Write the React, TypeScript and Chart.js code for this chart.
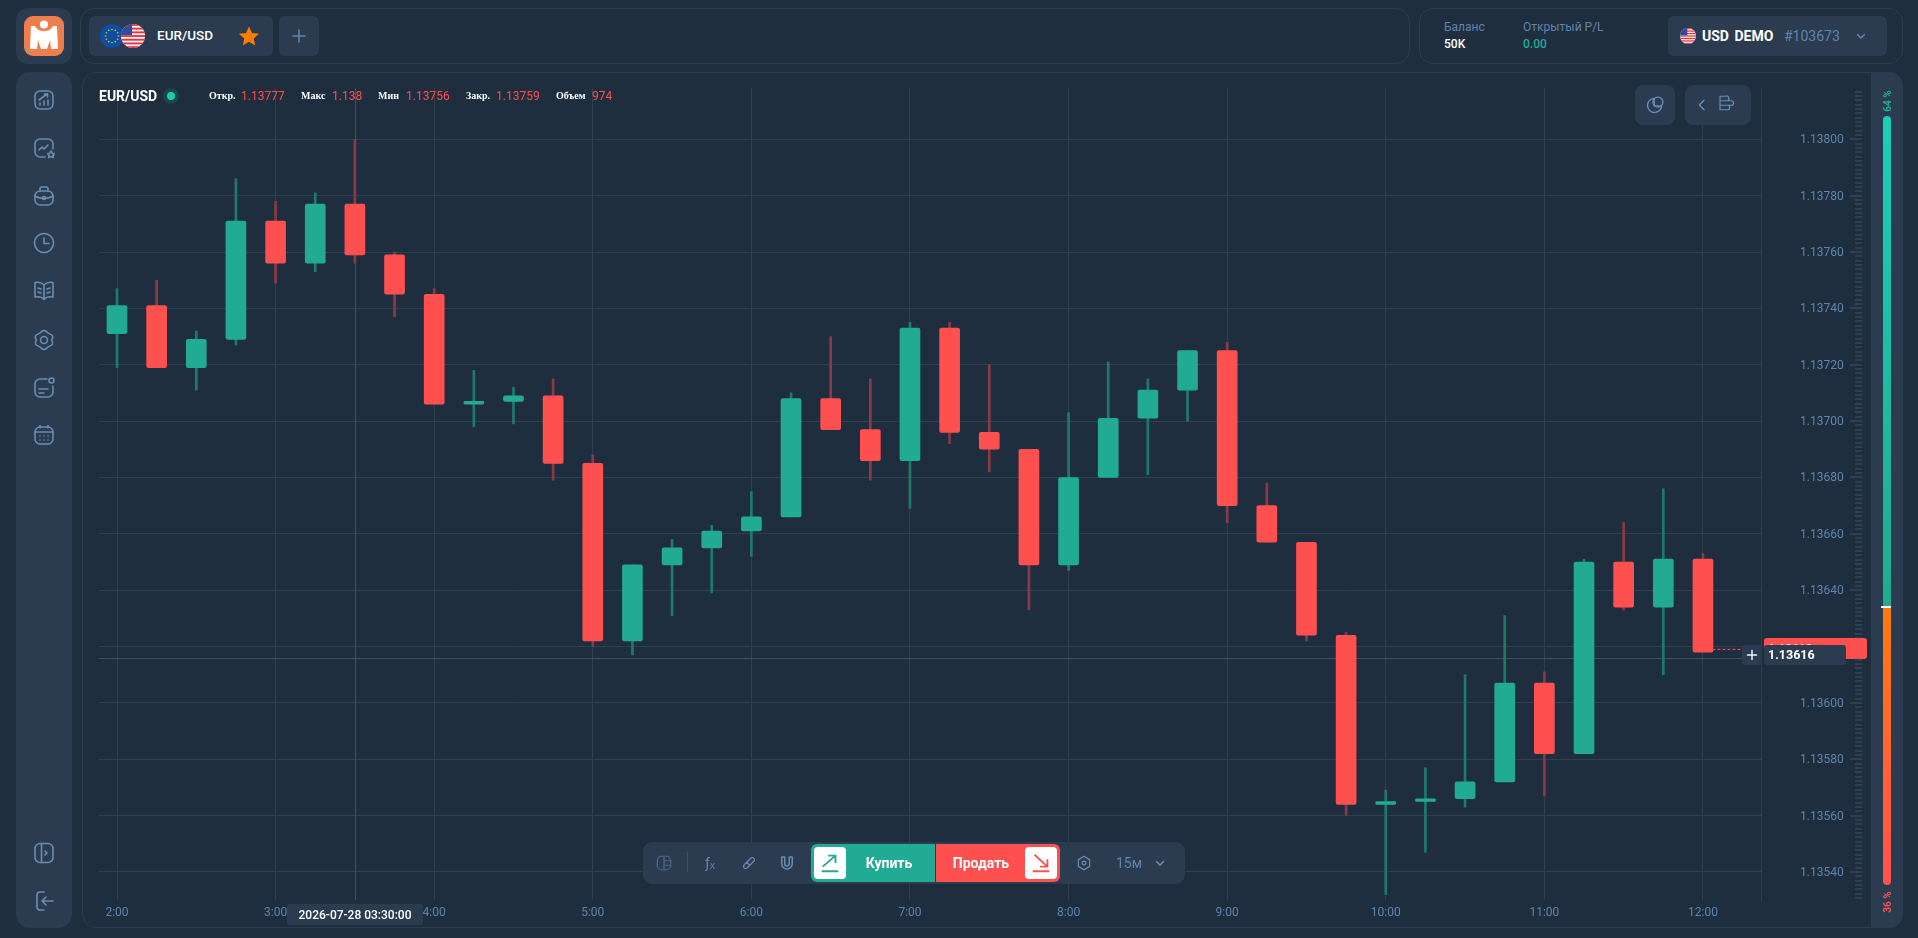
import React, { useEffect, useRef } from "react";
import { Chart, registerables } from "chart.js";

Chart.register(...registerables);

const times = [2, 2.25, 2.5, 2.75, 3, 3.25, 3.5, 3.75, 4, 4.25, 4.5, 4.75, 5, 5.25, 5.5, 5.75, 6, 6.25, 6.5, 6.75, 7, 7.25, 7.5, 7.75, 8, 8.25, 8.5, 8.75, 9, 9.25, 9.5, 9.75, 10, 10.25, 10.5, 10.75, 11, 11.25, 11.5, 11.75, 12];
const opens = [1.13731, 1.13741, 1.13719, 1.13729, 1.13771, 1.13756, 1.13777, 1.13759, 1.13745, 1.13706, 1.13707, 1.13709, 1.13685, 1.13622, 1.13649, 1.13655, 1.13661, 1.13666, 1.13708, 1.13697, 1.13686, 1.13733, 1.13696, 1.1369, 1.13649, 1.1368, 1.13701, 1.13711, 1.13725, 1.1367, 1.13657, 1.13624, 1.13564, 1.13565, 1.13566, 1.13572, 1.13607, 1.13582, 1.1365, 1.13634, 1.13651];
const highs = [1.13747, 1.1375, 1.13732, 1.13786, 1.13778, 1.13781, 1.138, 1.1376, 1.13747, 1.13718, 1.13712, 1.13715, 1.13688, 1.13649, 1.13658, 1.13663, 1.13675, 1.1371, 1.1373, 1.13715, 1.13735, 1.13735, 1.1372, 1.1369, 1.13703, 1.13721, 1.13715, 1.13725, 1.13728, 1.13678, 1.13657, 1.13625, 1.13569, 1.13577, 1.1361, 1.13631, 1.13611, 1.13651, 1.13664, 1.13676, 1.13653];
const lows = [1.13719, 1.13719, 1.13711, 1.13727, 1.13749, 1.13753, 1.13756, 1.13737, 1.13706, 1.13698, 1.13699, 1.13679, 1.1362, 1.13617, 1.13631, 1.13639, 1.13652, 1.13666, 1.13697, 1.13679, 1.13669, 1.13692, 1.13682, 1.13633, 1.13647, 1.1368, 1.13681, 1.137, 1.13664, 1.13657, 1.13622, 1.1356, 1.13532, 1.13547, 1.13563, 1.13572, 1.13567, 1.13582, 1.13633, 1.1361, 1.13618];
const closes = [1.13741, 1.13719, 1.13729, 1.13771, 1.13756, 1.13777, 1.13759, 1.13745, 1.13706, 1.13707, 1.13709, 1.13685, 1.13622, 1.13649, 1.13655, 1.13661, 1.13666, 1.13708, 1.13697, 1.13686, 1.13733, 1.13696, 1.1369, 1.13649, 1.1368, 1.13701, 1.13711, 1.13725, 1.1367, 1.13657, 1.13624, 1.13564, 1.13565, 1.13566, 1.13572, 1.13607, 1.13582, 1.1365, 1.13634, 1.13651, 1.13618];
const hourTicks = [2, 3, 4, 5, 6, 7, 8, 9, 10, 11, 12];
const priceTicks = [1.138, 1.1378, 1.1376, 1.1374, 1.1372, 1.137, 1.1368, 1.1366, 1.1364, 1.1362, 1.136, 1.1358, 1.1356, 1.1354];
const lastPrice = 1.13619;
const crosshairTime = 3.5;
const crosshairPrice = 1.13616;
const header = [
  ["Откр.", "1.13777"],
  ["Макс", "1.138"],
  ["Мин", "1.13756"],
  ["Закр.", "1.13759"],
  ["Объем", "974"],
];

const UP = "#22ab94";
const DOWN = "#ff5050";
const UP_WICK = "#1e7a6d";
const DOWN_WICK = "#8a3a46";
const GRID = "#2e3f52";
const BLUE = "#5f84ad";
const PANEL = "#2b3c50";
const BG = "#1f2e3e";
const EDGE = "#2c3c4f";
const FONT = "Roboto, sans-serif";

const rulerPlugin = {
  id: "ruler",
  beforeDatasetsDraw(chart: any) {
    const y = chart.scales.y;
    const { ctx, chartArea } = chart;
    ctx.save();
    ctx.fillStyle = "#2e3f52";
    const sub = 0.0002 / 13;
    for (let i = -12; i < 200; i++) {
      const v = 1.138 - i * sub;
      const py = y.getPixelForValue(v);
      if (py < chartArea.top + 2 || py > chartArea.bottom) continue;
      const major = i % 13 === 0;
      ctx.fillRect(major ? 1850 : 1855, Math.round(py) - 1, major ? 12 : 7, 2);
    }
    ctx.strokeStyle = "#3f5064";
    ctx.lineWidth = 1;
    const cx = Math.round(chart.scales.x.getPixelForValue(crosshairTime)) + 0.5;
    const cy = Math.round(y.getPixelForValue(crosshairPrice)) + 0.5;
    ctx.beginPath();
    ctx.moveTo(cx, chartArea.top);
    ctx.lineTo(cx, chartArea.bottom);
    ctx.moveTo(chartArea.left, cy);
    ctx.lineTo(chartArea.right - 18, cy);
    ctx.stroke();
    ctx.restore();
  },
};

function CandleChart() {
  const ref = useRef<HTMLCanvasElement>(null);
  useEffect(() => {
    const chart = new Chart(ref.current as HTMLCanvasElement, {
      type: "bar",
      plugins: [rulerPlugin],
      data: {
        datasets: [
          {
            type: "line",
            data: [
              { x: 12.06, y: lastPrice },
              { x: 12.245, y: lastPrice },
            ],
            borderColor: DOWN,
            borderWidth: 1,
            borderDash: [3, 2],
            pointRadius: 0,
          },
          {
            data: times.map((t, i) => ({ x: t, y: [opens[i], closes[i]] })),
            backgroundColor: times.map((_, i) => (closes[i] >= opens[i] ? UP : DOWN)),
            barThickness: 20,
            borderRadius: 2,
            borderSkipped: false,
            grouped: false,
          },
          {
            data: times.map((t, i) => ({ x: t, y: [lows[i], highs[i]] })),
            backgroundColor: times.map((_, i) => (closes[i] >= opens[i] ? UP_WICK : DOWN_WICK)),
            barThickness: 2,
            grouped: false,
          },
        ] as any,
      },
      options: {
        animation: false,
        responsive: false,
        devicePixelRatio: 1,
        events: [],
        layout: { padding: { left: 99, top: 88, right: 57, bottom: 8 } },
        plugins: { legend: { display: false }, tooltip: { enabled: false } },
        scales: {
          x: {
            type: "linear",
            offset: false,
            min: 1.8865,
            max: 12.366,
            afterBuildTicks: (s: any) => {
              s.ticks = hourTicks.map((v) => ({ value: v }));
            },
            afterFit: (s: any) => {
              s.height = 30;
            },
            grid: { color: GRID, drawTicks: false, offset: false },
            border: { display: false },
            ticks: {
              color: BLUE,
              font: { family: FONT, size: 12 },
              padding: 6,
              autoSkip: false,
              maxRotation: 0,
              callback: (v: any) => `${v}:00`,
            },
          },
          y: {
            type: "linear",
            position: "right",
            min: 1.1353006,
            max: 1.138182,
            afterBuildTicks: (s: any) => {
              s.ticks = priceTicks.map((v) => ({ value: v }));
            },
            afterFit: (s: any) => {
              s.width = 100;
            },
            grid: { color: GRID, drawTicks: true, tickLength: 39, tickColor: "transparent" },
            border: { display: true, color: GRID },
            ticks: {
              color: BLUE,
              font: { family: FONT, size: 12 },
              padding: 0,
              labelOffset: 1,
              autoSkip: false,
              callback: (v: any) => Number(v).toFixed(5),
            },
          },
        },
      } as any,
    });
    return () => chart.destroy();
  }, []);
  return (
    <canvas
      ref={ref}
      width={1918}
      height={938}
      style={{ position: "absolute", left: 0, top: 0, width: 1918, height: 938, zIndex: 1 }}
    />
  );
}

const box = (l: number, t: number, w: number, h: number, extra: any = {}) => ({
  position: "absolute",
  left: l,
  top: t,
  width: w,
  height: h,
  boxSizing: "border-box",
  ...extra,
});

const txt = (l: number, cy: number, size: number, color: string, extra: any = {}) => ({
  position: "absolute",
  left: l,
  top: cy - 10,
  height: 20,
  lineHeight: "20px",
  fontFamily: FONT,
  fontSize: size,
  color,
  whiteSpace: "nowrap",
  ...extra,
});

function Icon({ cx, cy, size = 24, color = "#6a8db3", sw = 1.6, children }: any) {
  return (
    <svg
      viewBox="0 0 24 24"
      width={size}
      height={size}
      fill="none"
      stroke={color}
      strokeWidth={sw}
      strokeLinecap="round"
      strokeLinejoin="round"
      style={{ position: "absolute", left: cx - size / 2, top: cy - size / 2, zIndex: 3 }}
    >
      {children}
    </svg>
  );
}

function UsFlag({ cx, cy, d, id }: any) {
  const stripes = [];
  for (let i = 0; i < 7; i++) stripes.push(<rect key={i} x="0" y={i * 3.7} width="24" height="1.85" fill="#e8313f" />);
  return (
    <svg viewBox="0 0 24 24" width={d} height={d} style={{ position: "absolute", left: cx - d / 2, top: cy - d / 2, zIndex: 3 }}>
      <clipPath id={id}>
        <circle cx="12" cy="12" r="12" />
      </clipPath>
      <g clipPath={`url(#${id})`}>
        <rect width="24" height="24" fill="#f5f5f5" />
        {stripes}
        <rect width="11" height="11" fill="#2f4d9c" />
      </g>
    </svg>
  );
}

function EuFlag({ cx, cy, d }: any) {
  const stars = [];
  for (let i = 0; i < 12; i++) {
    const a = (i * Math.PI) / 6;
    stars.push(<circle key={i} cx={12 + 6.5 * Math.cos(a)} cy={12 + 6.5 * Math.sin(a)} r="0.8" fill="#ffcc00" />);
  }
  return (
    <svg viewBox="0 0 24 24" width={d} height={d} style={{ position: "absolute", left: cx - d / 2, top: cy - d / 2, zIndex: 3 }}>
      <circle cx="12" cy="12" r="12" fill="#0b4ea2" />
      {stars}
    </svg>
  );
}

const sideYs = [100, 148, 196, 243, 291, 340, 388, 435];
const sideIcons = [
  <g key="0"><rect x="3" y="3" width="18" height="18" rx="5" /><path d="M7 12l8-6M12.5 6H15.5V9M8 17v-2M12 17v-4M16 17v-5" /></g>,
  <g key="1"><path d="M13 21H8a5 5 0 0 1-5-5V8a5 5 0 0 1 5-5h8a5 5 0 0 1 5 5v5" /><path d="M7 14l3-3 2 2 4-4" /><path d="M19 15l1.4 2.4 2 .4-1.4 1.6.3 2.2-2.3-1-2.3 1 .3-2.2-1.4-1.6 2-.4z" /></g>,
  <g key="2"><rect x="3" y="7" width="18" height="14" rx="5" /><path d="M8 7V5a2 2 0 0 1 2-2h4a2 2 0 0 1 2 2v2M3 12c3 2 6 2.500 9 2.500s6-.5 9-2.500" /><circle cx="12" cy="14" r="1.500" /></g>,
  <g key="3"><circle cx="12" cy="12" r="9.500" /><path d="M12 7v5.500h5" /></g>,
  <g key="4"><path d="M12 6c-2-2-6-3-9-2.500V18c3-.5 7 0 9 2.500 2-2.500 6-3 9-2.500V3.500C18 3 14 4 12 6zM12 6v14.500" /><path d="M6 9l3 1M6 13l3 1M18 9l-3 1M18 13l-3 1" /></g>,
  <g key="5"><circle cx="12" cy="12" r="3.500" /><path d="M12 2.500c2 0 3 1.500 4 2.500s3.500 1 4.500 3-1 3.500-1 4 2 2 1 4-3.500 2-4.500 3-2 2.500-4 2.500-3-1.500-4-2.500-3.500-1-4.500-3 1-3.500 1-4-2-2-1-4 3.500-2 4.500-3 2-2.500 4-2.500z" /></g>,
  <g key="6"><path d="M15 3H8a5 5 0 0 0-5 5v8a5 5 0 0 0 5 5h8a5 5 0 0 0 5-5v-6" /><circle cx="19.500" cy="4.500" r="2.500" /><path d="M7 13h9M7 17h5" /></g>,
  <g key="7"><rect x="3" y="4" width="18" height="17" rx="5" /><path d="M3 9h18M8 2.500V5M16 2.500V5M8 13h.01M12 13h.01M16 13h.01M8 17h.01M12 17h.01M16 17h.01" /></g>,
];

export default function App() {
  const headerX = [[209, 241], [301, 332], [378, 406], [466, 496], [556, 592]];
  return (
    <div style={{ position: "relative", width: 1918, height: 938, background: BG, overflow: "hidden" }}>
      <style>{`html,body{margin:0;padding:0;background:${BG};overflow:hidden}`}</style>

      {/* logo */}
      <div style={box(16, 8, 56, 56, { background: PANEL, borderRadius: 12 }) as any} />
      <div style={box(24, 16, 40, 40, { background: "#ee7f4d", borderRadius: 9 }) as any} />
      <svg viewBox="0 0 40 40" width={40} height={40} style={{ position: "absolute", left: 24, top: 16, zIndex: 3 }}>
        <path d="M7 10h4c2 4 5 5 9 5s7-1 9-5h4l1 23h-7l-1-9-3 9h-6l-3-9-1 9H6z" fill="#fff" />
        <circle cx="20" cy="8.500" r="4" fill="#fff" />
      </svg>

      {/* top panels */}
      <div style={box(80, 8, 1330, 56, { border: `1px solid ${EDGE}`, borderRadius: 14 }) as any} />
      <div style={box(89, 16, 184, 40, { background: PANEL, borderRadius: 6 }) as any} />
      <div style={box(279, 16, 40, 40, { background: PANEL, borderRadius: 6 }) as any} />
      <EuFlag cx={112} cy={36} d={24} />
      <UsFlag cx={133} cy={36} d={24} id="us1" />
      <div style={txt(157, 35, 13.500, "#fff", { fontWeight: 500 }) as any}>EUR/USD</div>
      <svg viewBox="0 0 24 24" width={22} height={22} style={{ position: "absolute", left: 238, top: 25, zIndex: 3 }}>
        <path d="M12 1.500l3.200 7.200 7.800.8-5.900 5.200 1.700 7.700L12 18.400l-6.800 4 1.700-7.700L1 9.500l7.800-.8z" fill="#ff7d00" />
      </svg>
      <Icon cx={299} cy={36} size={16} color={BLUE} sw={2.400}><path d="M12 3v18M3 12h18" /></Icon>

      <div style={box(1419, 8, 484, 56, { border: `1px solid ${EDGE}`, borderRadius: 14 }) as any} />
      <div style={txt(1444, 27, 12, BLUE) as any}>Баланс</div>
      <div style={txt(1444, 44, 12, "#fff", { fontWeight: 500 }) as any}>50K</div>
      <div style={txt(1523, 27, 12, BLUE) as any}>Открытый P/L</div>
      <div style={txt(1523, 44, 12, UP, { fontWeight: 500 }) as any}>0.00</div>
      <div style={box(1668, 16, 219, 40, { background: PANEL, borderRadius: 6 }) as any} />
      <UsFlag cx={1688} cy={36} d={16} id="us2" />
      <div style={txt(1702, 36, 14, "#fff", { fontWeight: 700, wordSpacing: 2 }) as any}>USD DEMO</div>
      <div style={txt(1784, 36, 14, BLUE) as any}>#103673</div>
      <Icon cx={1861} cy={36} size={12} color={BLUE} sw={3}><path d="M5 9l7 7 7-7" /></Icon>

      {/* sidebar */}
      <div style={box(16, 72, 56, 856, { background: PANEL, borderRadius: 14 }) as any} />
      {sideIcons.map((g, i) => (
        <Icon key={i} cx={44} cy={sideYs[i]} size={24}>{g}</Icon>
      ))}
      <Icon cx={44} cy={853} size={24}><rect x="3" y="2.500" width="18" height="19" rx="5" /><path d="M9.500 2.500v19M13 10l2 2-2 2" /></Icon>
      <Icon cx={44} cy={901} size={24}><path d="M12 3H8a3 3 0 0 0-3 3v12a3 3 0 0 0 3 3h4" /><path d="M21 12H10M14 8l-4 4 4 4" /></Icon>

      {/* chart panel */}
      <div style={box(82, 72, 1821, 856, { border: `1px solid ${EDGE}`, borderRadius: 14 }) as any} />
      <div style={box(1871, 72, 32, 856, { background: PANEL, borderRadius: "0 14px 14px 0" }) as any} />
      <div style={box(1883, 116, 8, 492, { background: "linear-gradient(#19cfba,#21ab90)", borderRadius: "4px 4px 0 0", zIndex: 2 }) as any} />
      <div style={box(1883, 608, 8, 277, { background: "linear-gradient(#ff7a10,#ff5050)", borderRadius: "0 0 4px 4px", zIndex: 2 }) as any} />
      <div style={box(1881, 606, 10, 2, { background: "#fff", zIndex: 3 }) as any} />
      <div style={txt(1876, 100, 10, UP, { fontWeight: 700, width: 24, top: 91, textAlign: "center", transform: "rotate(-90deg)", zIndex: 3 }) as any}>64 %</div>
      <div style={txt(1876, 902, 10, DOWN, { fontWeight: 700, width: 24, top: 892, textAlign: "center", transform: "rotate(-90deg)", zIndex: 3 }) as any}>36 %</div>

      <CandleChart />

      {/* chart header */}
      <div style={txt(99, 96, 14, "#fff", { fontWeight: 700, zIndex: 3 }) as any}>EUR/USD</div>
      <div style={box(163, 88, 16, 16, { background: "#17474a", borderRadius: 8, zIndex: 3 }) as any} />
      <div style={box(167, 92, 8, 8, { background: "#19cf9f", borderRadius: 4, zIndex: 3 }) as any} />
      {header.map(([k, v], i) => (
        <React.Fragment key={k}>
          <div style={txt(headerX[i][0], 96, 10, "#fff", { fontFamily: "'Liberation Serif', serif", fontWeight: 700, zIndex: 3 }) as any}>{k}</div>
          <div style={txt(headerX[i][1], 96, 12, "#ff4d4d", { zIndex: 3 }) as any}>{v}</div>
        </React.Fragment>
      ))}

      {/* top right buttons */}
      <div style={box(1635, 85, 40, 40, { background: PANEL, borderRadius: 8, zIndex: 3 }) as any} />
      <div style={box(1685, 85, 66, 40, { background: PANEL, borderRadius: 8, zIndex: 3 }) as any} />
      <Icon cx={1655} cy={105} size={20}><path d="M11 4a8.500 8.500 0 1 0 9 9h-9z" /><circle cx="15.500" cy="8.500" r="6" /></Icon>
      <Icon cx={1702} cy={105} size={16} sw={2}><path d="M15 5l-7 7 7 7" /></Icon>
      <Icon cx={1726} cy={103} size={18}><path d="M4 3v18h10a3 3 0 0 0 0-6h5a3 3 0 0 0 0-6H14a3 3 0 0 0-3-6zM4 9h10M4 15h10" /></Icon>

      {/* price tag */}
      <div style={box(1764, 638, 103, 21, { background: DOWN, borderRadius: 3, zIndex: 2 }) as any} />
      <div style={txt(1768, 649, 12, "#fff", { fontWeight: 500, zIndex: 2 }) as any}>1.13619</div>
      <div style={box(1742, 645, 20, 20, { background: PANEL, borderRadius: 3, zIndex: 3 }) as any} />
      <Icon cx={1752} cy={655} size={12} color="#eef2f6" sw={3}><path d="M12 3v18M3 12h18" /></Icon>
      <div style={box(1764, 645, 82, 20, { background: PANEL, borderRadius: 3, zIndex: 3 }) as any} />
      <div style={txt(1768, 655, 12.500, "#fff", { fontWeight: 700, zIndex: 4 }) as any}>1.13616</div>

      {/* time tag */}
      <div style={box(287, 904, 136, 21, { background: PANEL, borderRadius: 2, zIndex: 3 }) as any} />
      <div style={txt(287, 915, 12, "#fff", { fontWeight: 500, width: 136, textAlign: "center", zIndex: 4 }) as any}>2026-07-28 03:30:00</div>

      {/* bottom toolbar */}
      <div style={box(643, 842, 542, 42, { background: PANEL, borderRadius: 9, zIndex: 3 }) as any} />
      <Icon cx={664} cy={863} size={18} color="#48688c"><rect x="3" y="3" width="18" height="18" rx="6" /><path d="M12 3v18M12 9h9M12 15h9" /></Icon>
      <div style={box(687, 852, 1, 20, { background: "#3c506a", zIndex: 4 }) as any} />
      <div style={txt(705, 863, 15, BLUE, { zIndex: 4 }) as any}>ƒₓ</div>
      <Icon cx={749} cy={863} size={18}><path d="M5 15L15 5a3 3 0 0 1 4 4L9 19a3 3 0 0 1-4-4zM9 11l4 4" /></Icon>
      <Icon cx={787} cy={863} size={18} sw={2}><path d="M5 4v9a7 7 0 0 0 14 0V4h-4v9a3 3 0 0 1-6 0V4z" /></Icon>
      <div style={box(811, 844, 124, 38, { background: UP, borderRadius: "6px 0 0 6px", zIndex: 4 }) as any} />
      <div style={box(936, 844, 124, 38, { background: DOWN, borderRadius: "0 6px 6px 0", zIndex: 4 }) as any} />
      <div style={box(814, 847, 32, 32, { background: "#fff", borderRadius: 4, zIndex: 5 }) as any} />
      <div style={box(1025, 847, 32, 32, { background: "#fff", borderRadius: 4, zIndex: 5 }) as any} />
      <svg viewBox="0 0 24 24" width={22} height={22} fill="none" stroke={UP} strokeWidth={2} style={{ position: "absolute", left: 819, top: 852, zIndex: 6 }}>
        <path d="M4 16L18 4M10 4h8v8M3 21h18" />
      </svg>
      <svg viewBox="0 0 24 24" width={22} height={22} fill="none" stroke={DOWN} strokeWidth={2} style={{ position: "absolute", left: 1030, top: 852, zIndex: 6 }}>
        <path d="M5 3l14 13M19 8v8h-8M3 21h18" />
      </svg>
      <div style={txt(846, 863, 14, "#fff", { fontWeight: 700, width: 86, textAlign: "center", zIndex: 5 }) as any}>Купить</div>
      <div style={txt(936, 863, 14, "#fff", { fontWeight: 700, width: 90, textAlign: "center", zIndex: 5 }) as any}>Продать</div>
      <Icon cx={1084} cy={863} size={18}><path d="M12 3l7.500 4.500v9L12 21l-7.500-4.500v-9z" /><circle cx="12" cy="12" r="2.500" /></Icon>
      <div style={txt(1116, 863, 14, BLUE, { zIndex: 4 }) as any}>15м</div>
      <Icon cx={1160} cy={863} size={12} sw={3}><path d="M5 9l7 7 7-7" /></Icon>
    </div>
  );
}
